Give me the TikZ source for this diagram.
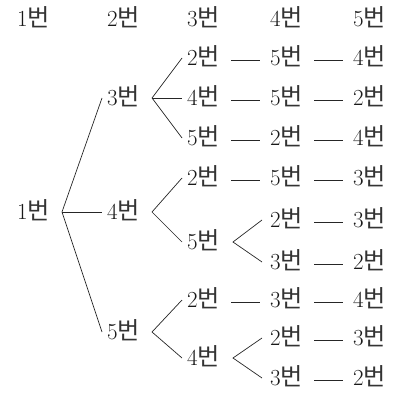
\documentclass[tikz,border=0pt]{standalone}
\usepackage{fontspec}
\newfontfamily\krfont[Scale=1.05]{Noto Sans CJK KR}
\newcommand\bn{{\krfont\color{black!80}번}}
\tikzset{
  lbl/.style={anchor=base west, inner xsep=5pt, inner ysep=0pt, text height=16pt, text depth=1pt, font=\fontsize{23}{27}\selectfont, text=black!90},
  br/.style={line width=0.7pt, draw=black!85},
  dashline/.style={line width=0.7pt, draw=black!85}
}
\begin{document}
\begin{tikzpicture}[x=1pt,y=-1pt]
\useasboundingbox (0,0) rectangle (392,393);
% header
\node[lbl] (h1) at (12,26.5) {1\bn};
\node[lbl] (h2) at (102,26.5) {2\bn};
\node[lbl] (h3) at (182,26.5) {3\bn};
\node[lbl] (h4) at (265,26.5) {4\bn};
\node[lbl] (h5) at (348,26.5) {5\bn};
% root and level 2
\node[lbl] (r) at (12,219.5) {1\bn};
\node[lbl] (a) at (102,105.5) {3\bn};
\node[lbl] (b) at (102,219.5) {4\bn};
\node[lbl] (c) at (102,339.5) {5\bn};
% rows under 3
\node[lbl] (a1) at (182,65.5) {2\bn};
\node[lbl] (a1x) at (265,65.5) {5\bn};
\node[lbl] (a1y) at (348,65.5) {4\bn};
\node[lbl] (a2) at (182,105.5) {4\bn};
\node[lbl] (a2x) at (265,105.5) {5\bn};
\node[lbl] (a2y) at (348,105.5) {2\bn};
\node[lbl] (a3) at (182,145.5) {5\bn};
\node[lbl] (a3x) at (265,145.5) {2\bn};
\node[lbl] (a3y) at (348,145.5) {4\bn};
% rows under 4
\node[lbl] (b1) at (182,185.5) {2\bn};
\node[lbl] (b1x) at (265,185.5) {5\bn};
\node[lbl] (b1y) at (348,185.5) {3\bn};
\node[lbl] (b2) at (182,249.5) {5\bn};
\node[lbl] (b2a) at (265,227.5) {2\bn};
\node[lbl] (b2ay) at (348,227.5) {3\bn};
\node[lbl] (b2b) at (265,269.5) {3\bn};
\node[lbl] (b2by) at (348,269.5) {2\bn};
% rows under 5
\node[lbl] (c1) at (182,307.5) {2\bn};
\node[lbl] (c1x) at (265,307.5) {3\bn};
\node[lbl] (c1y) at (348,307.5) {4\bn};
\node[lbl] (c2) at (182,365.5) {4\bn};
\node[lbl] (c2a) at (265,345.5) {2\bn};
\node[lbl] (c2ay) at (348,345.5) {3\bn};
\node[lbl] (c2b) at (265,385.5) {3\bn};
\node[lbl] (c2by) at (348,385.5) {2\bn};
% branch vertices
\coordinate (rv) at ([xshift=50pt]r.west);
\coordinate (av) at ([xshift=50pt]a.west);
\coordinate (bv) at ([xshift=50pt]b.west);
\coordinate (cv) at ([xshift=50pt]c.west);
\coordinate (b2v) at ([xshift=51pt]b2.west);
\coordinate (c2v) at ([xshift=51pt]c2.west);
% branches
\draw[br] (a.west) -- (rv) -- (c.west);
\draw[br] (rv) -- (b.west);
\draw[br] (a1.west) -- (av) -- (a3.west);
\draw[br] (av) -- (a2.west);
\draw[br] (b1.west) -- (bv) -- (b2.west);
\draw[br] (c1.west) -- (cv) -- (c2.west);
\draw[br] ([xshift=-3pt]b2a.west) -- (b2v) -- ([xshift=-3pt]b2b.west);
\draw[br] ([xshift=-3pt]c2a.west) -- (c2v) -- ([xshift=-3pt]c2b.west);
% dashes
\foreach \p/\q in {a1/a1x,a1x/a1y,a2/a2x,a2x/a2y,a3/a3x,a3x/a3y,b1/b1x,b1x/b1y,b2a/b2ay,b2b/b2by,c1/c1x,c1x/c1y,c2a/c2ay,c2b/c2by}
  \draw[dashline] ([xshift=49pt,yshift=-2pt]\p.west) -- ([xshift=-5pt,yshift=-2pt]\q.west);
\end{tikzpicture}
\end{document}
